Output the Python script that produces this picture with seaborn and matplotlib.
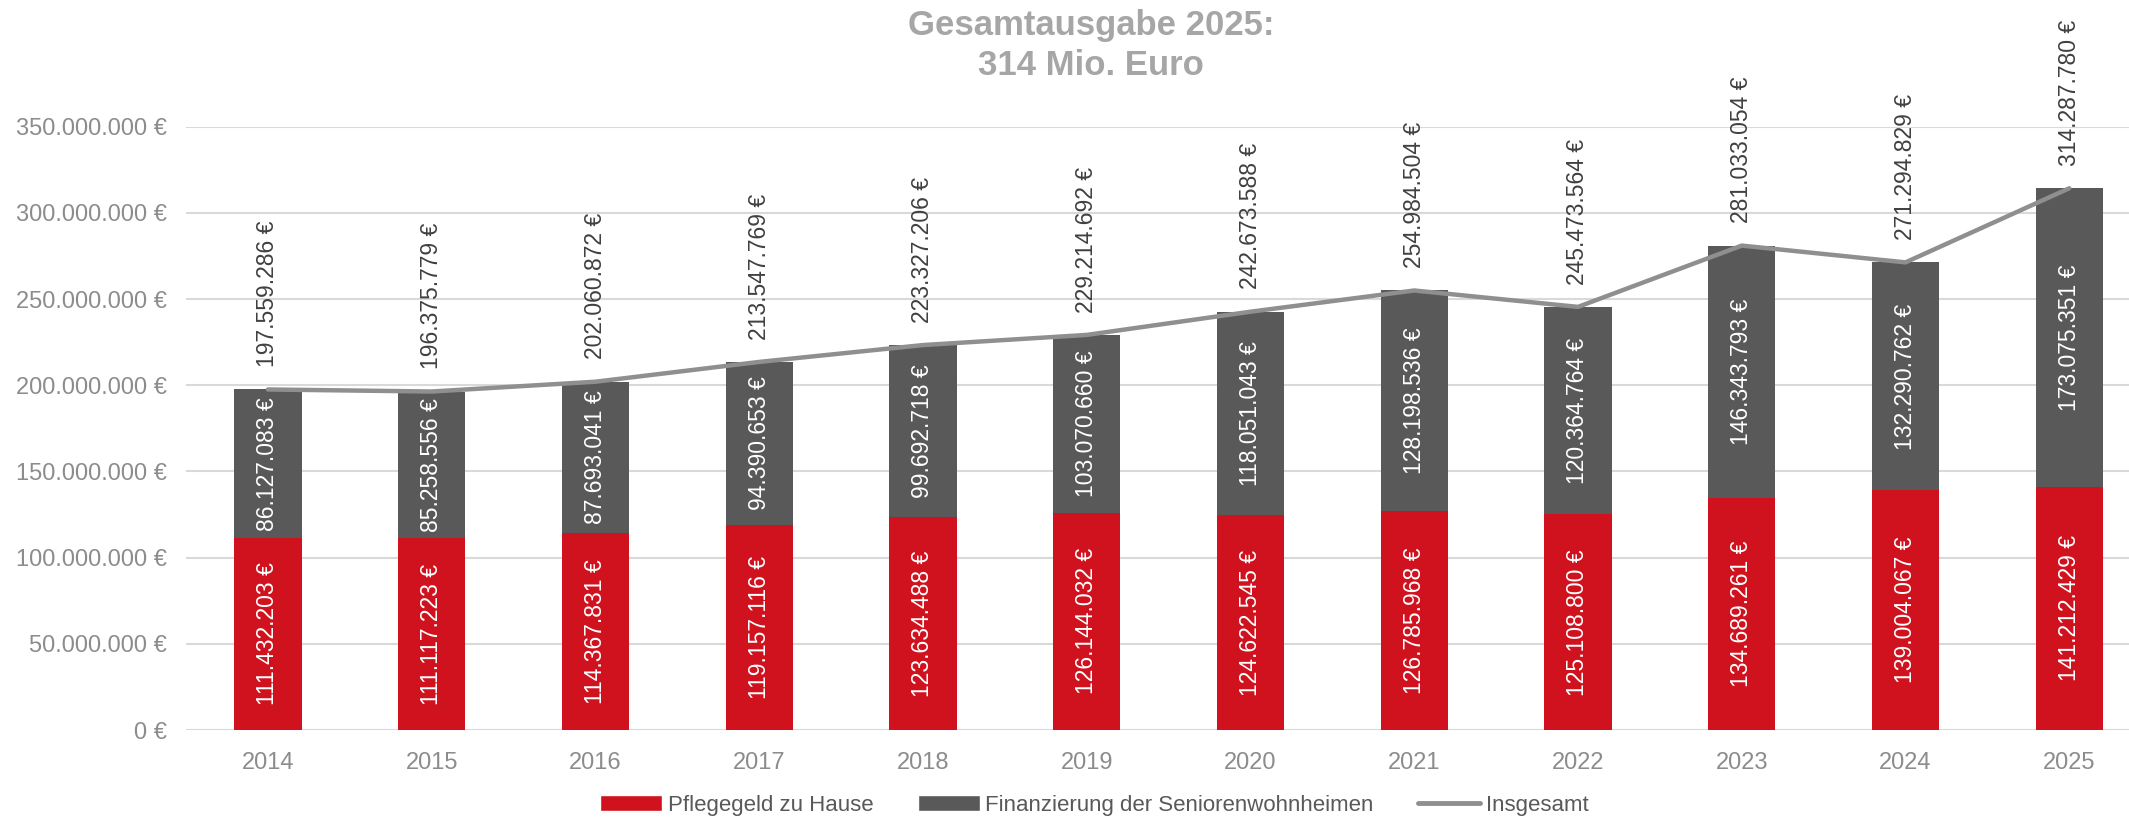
import numpy as np
import pandas as pd
import matplotlib
matplotlib.use("Agg")
from matplotlib import pyplot as plt
from matplotlib.patches import Patch
from matplotlib.lines import Line2D
import seaborn as sns

years = ['2014', '2015', '2016', '2017', '2018', '2019',
         '2020', '2021', '2022', '2023', '2024', '2025']
pflegegeld = [111432203, 111117223, 114367831, 119157116, 123634488, 126144032,
              124622545, 126785968, 125108800, 134689261, 139004067, 141212429]
heime = [86127083, 85258556, 87693041, 94390653, 99692718, 103070660,
         118051043, 128198536, 120364764, 146343793, 132290762, 173075351]
insgesamt = [197559286, 196375779, 202060872, 213547769, 223327206, 229214692,
             242673588, 254984504, 245473564, 281033054, 271294829, 314287780]

df = pd.DataFrame({'Jahr': years, 'Pflegegeld': pflegegeld,
                   'Heime': heime, 'Insgesamt': insgesamt})

RED = '#D0121F'
DARK = '#595959'
LINE = '#8F8F8F'
TXT = '#8C8C8C'


def euro(v):
    return f"{int(v):,}".replace(",", ".") + " €"


sns.set_theme(style='white')
plt.rcParams['font.family'] = ['Liberation Sans', 'DejaVu Sans']

fig = plt.figure(figsize=(21.29, 8.26), dpi=100)
ax = fig.add_axes([0.0874, 0.1162, 0.923, 0.7304])

# stacked: full height in dark grey, red part on top of it from zero
sns.barplot(data=df, x='Jahr', y='Insgesamt', color=DARK, width=0.41,
            saturation=1, linewidth=0, ax=ax, zorder=2)
sns.barplot(data=df, x='Jahr', y='Pflegegeld', color=RED, width=0.41,
            saturation=1, linewidth=0, ax=ax, zorder=2)
sns.lineplot(x=np.arange(len(years)), y=df['Insgesamt'], color=LINE, lw=3.2,
             ax=ax, zorder=4, solid_capstyle='round')

for i in range(len(years)):
    p = df['Pflegegeld'][i]
    h = df['Heime'][i]
    t = df['Insgesamt'][i]
    ax.text(i, p / 2, euro(p), rotation=90, ha='center', va='center',
            color='white', fontsize=16.5, zorder=5)
    ax.text(i, p + h / 2, euro(h), rotation=90, ha='center', va='center',
            color='white', fontsize=16.5, zorder=5)
    ax.annotate(euro(t), (i, t), xytext=(0, 16), textcoords='offset points',
                rotation=90, ha='center', va='bottom', color='#404040',
                fontsize=16.5, zorder=5, annotation_clip=False)

ax.set_ylim(0, 350000000)
ax.set_xlim(-0.5, len(years) - 0.5)
ticks = np.arange(0, 350000001, 50000000)
ax.set_yticks(ticks)
ax.set_yticklabels([euro(v) for v in ticks])
ax.yaxis.grid(True, color='#D9D9D9', lw=1.5, zorder=0)
ax.set_axisbelow(True)
for s in ax.spines.values():
    s.set_visible(False)
ax.tick_params(axis='y', length=0, pad=14, labelsize=17, labelcolor=TXT)
ax.tick_params(axis='x', length=0, pad=16, labelsize=17, labelcolor=TXT)
ax.set_xlabel('')
ax.set_ylabel('')

fig.text(0.5125, 0.945, 'Gesamtausgabe 2025:\n314 Mio. Euro', ha='center',
         va='center', fontsize=25, fontweight='bold', color='#A6A6A6',
         linespacing=1.25)

handles = [Patch(facecolor=RED), Patch(facecolor=DARK),
           Line2D([0], [0], color=LINE, lw=3.5, solid_capstyle='round')]
labels = ['Pflegegeld zu Hause', 'Finanzierung der Seniorenwohnheimen', 'Insgesamt']
fig.legend(handles, labels, loc='center', bbox_to_anchor=(0.514, 0.025), ncol=3,
           frameon=False, fontsize=16, handlelength=2.8, handleheight=0.75,
           handletextpad=0.25, columnspacing=2.0, labelcolor='#595959')

fig.savefig('out.png', dpi=100)
